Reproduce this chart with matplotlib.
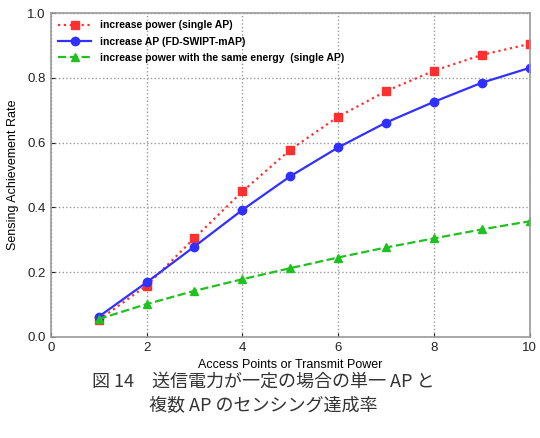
import matplotlib
matplotlib.use("Agg")
import matplotlib.pyplot as plt

x = [1, 2, 3, 4, 5, 6, 7, 8, 9, 10]
power_single = [0.052, 0.158, 0.305, 0.449, 0.578, 0.680, 0.759, 0.822, 0.871, 0.905]
ap_multi = [0.062, 0.168, 0.279, 0.392, 0.496, 0.585, 0.662, 0.726, 0.785, 0.831]
power_same_energy = [0.055, 0.101, 0.142, 0.178, 0.212, 0.245, 0.276, 0.304, 0.332, 0.357]

labels = ["increase power (single AP)",
          "increase AP (FD-SWIPT-mAP)",
          "increase power with the same energy  (single AP)"]
caption = "図 14　送信電力が一定の場合の単一 AP と\n複数 AP のセンシング達成率"

plt.rcParams["font.family"] = ["Liberation Sans", "DejaVu Sans"]

fig = plt.figure(figsize=(5.4, 4.38), dpi=100)
ax = fig.add_axes([0.094, 0.231, 0.887, 0.739])

ax.plot(x, power_single, ls=":", lw=1.6, color="#ff3030", marker="s", ms=6,
        label=labels[0])
ax.plot(x, ap_multi, ls="-", lw=1.6, color="#3030ff", marker="o", ms=6,
        label=labels[1])
ax.plot(x, power_same_energy, ls="--", lw=1.6, color="#20c020", marker="^", ms=6,
        label=labels[2])

ax.set_xlim(0, 10)
ax.set_ylim(0, 1.0)
ax.set_xticks([0, 2, 4, 6, 8, 10])
ax.set_yticks([0, 0.2, 0.4, 0.6, 0.8, 1.0])
ax.set_yticklabels(["0.0", "0.2", "0.4", "0.6", "0.8", "1.0"])
ax.tick_params(direction="in", length=3, labelsize=9.5, colors="#222222")
ax.grid(ls=":", color="#999999", lw=1)
for s in ax.spines.values():
    s.set_color("#999999")
    s.set_linewidth(1.2)

ax.set_xlabel("Access Points or Transmit Power", fontsize=9, labelpad=4)
ax.set_ylabel("Sensing Achievement Rate", fontsize=9, labelpad=6)

ax.legend(loc="upper left", frameon=False, handlelength=3.2,
          borderaxespad=0.3, labelspacing=0.6,
          prop={"weight": "bold", "size": 7.5})

fig.text(0.487, 0.100, caption, ha="center", va="center", fontsize=13,
         linespacing=1.45, color="#333333",
         family=["Noto Sans CJK JP", "DejaVu Sans"])

fig.savefig("out.png", dpi=100)
